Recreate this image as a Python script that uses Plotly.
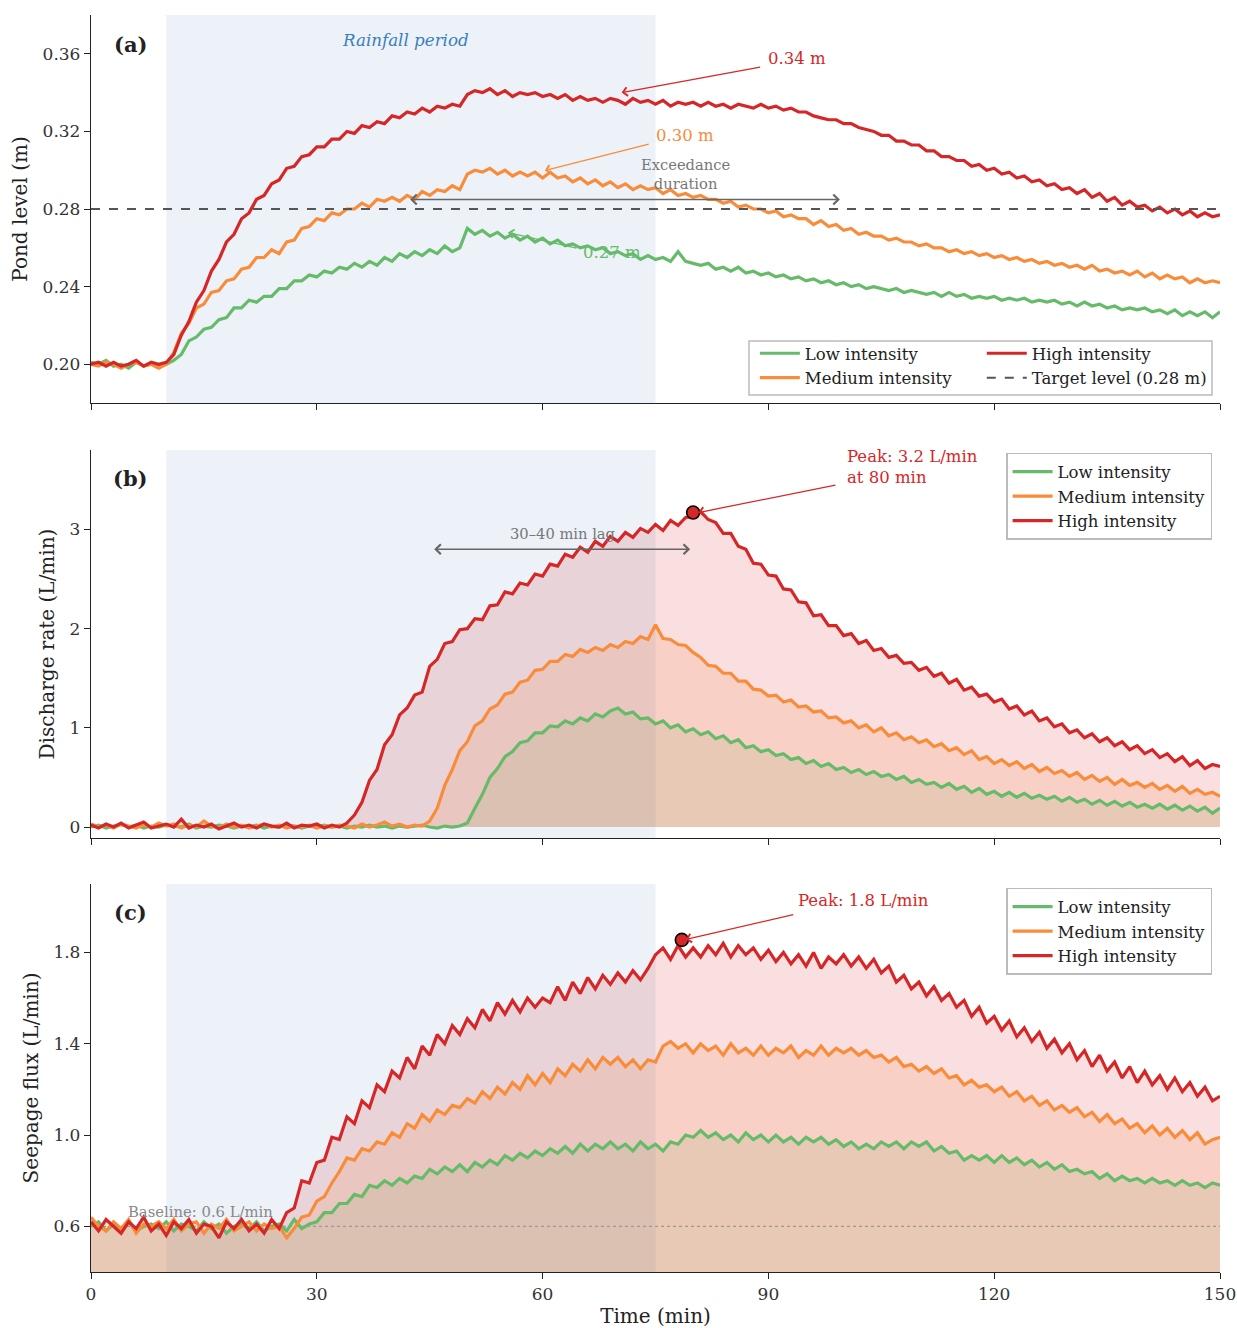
import plotly.graph_objects as go

# ---------------- data ----------------
time_min = list(range(0, 151))

pond_low = [
    0.201, 0.200, 0.202, 0.199, 0.200, 0.198, 0.201, 0.199, 0.200, 0.199,
    0.200, 0.202, 0.205, 0.212, 0.214, 0.218, 0.219, 0.223, 0.224, 0.229,
    0.229, 0.233, 0.232, 0.235, 0.235, 0.239, 0.239, 0.243, 0.243, 0.246,
    0.245, 0.248, 0.247, 0.250, 0.249, 0.252, 0.250, 0.253, 0.251, 0.255,
    0.253, 0.257, 0.255, 0.258, 0.256, 0.259, 0.257, 0.261, 0.258, 0.260,
    0.270, 0.267, 0.269, 0.266, 0.268, 0.265, 0.267, 0.264, 0.266, 0.263,
    0.265, 0.262, 0.264, 0.261, 0.262, 0.260, 0.261, 0.259, 0.260, 0.257,
    0.258, 0.256, 0.257, 0.254, 0.256, 0.254, 0.255, 0.253, 0.258, 0.253,
    0.252, 0.251, 0.252, 0.249, 0.250, 0.248, 0.250, 0.247, 0.248, 0.246,
    0.247, 0.245, 0.246, 0.244, 0.245, 0.243, 0.244, 0.242, 0.243, 0.241,
    0.242, 0.240, 0.241, 0.239, 0.240, 0.239, 0.238, 0.239, 0.237, 0.238,
    0.237, 0.236, 0.237, 0.235, 0.237, 0.235, 0.236, 0.234, 0.235, 0.234,
    0.235, 0.233, 0.234, 0.233, 0.234, 0.232, 0.233, 0.232, 0.233, 0.231,
    0.232, 0.230, 0.232, 0.230, 0.231, 0.229, 0.230, 0.228, 0.229, 0.228,
    0.229, 0.227, 0.228, 0.226, 0.228, 0.225, 0.227, 0.225, 0.227, 0.224,
    0.227]

pond_med = [
    0.200, 0.199, 0.201, 0.200, 0.198, 0.200, 0.201, 0.199, 0.200, 0.198,
    0.200, 0.206, 0.216, 0.221, 0.229, 0.231, 0.237, 0.238, 0.243, 0.244,
    0.249, 0.250, 0.255, 0.255, 0.259, 0.257, 0.263, 0.264, 0.270, 0.271,
    0.275, 0.274, 0.278, 0.277, 0.280, 0.280, 0.283, 0.281, 0.285, 0.284,
    0.286, 0.284, 0.287, 0.285, 0.289, 0.287, 0.290, 0.289, 0.292, 0.290,
    0.298, 0.300, 0.299, 0.301, 0.298, 0.300, 0.297, 0.299, 0.297, 0.299,
    0.296, 0.299, 0.296, 0.297, 0.294, 0.296, 0.293, 0.295, 0.292, 0.294,
    0.291, 0.293, 0.290, 0.292, 0.290, 0.291, 0.288, 0.290, 0.287, 0.288,
    0.286, 0.287, 0.285, 0.285, 0.283, 0.284, 0.281, 0.282, 0.280, 0.280,
    0.278, 0.279, 0.276, 0.277, 0.275, 0.275, 0.272, 0.274, 0.271, 0.272,
    0.269, 0.270, 0.267, 0.268, 0.266, 0.266, 0.264, 0.265, 0.263, 0.263,
    0.261, 0.262, 0.260, 0.260, 0.258, 0.259, 0.257, 0.258, 0.256, 0.257,
    0.255, 0.256, 0.254, 0.255, 0.253, 0.254, 0.252, 0.253, 0.251, 0.252,
    0.250, 0.251, 0.249, 0.251, 0.248, 0.249, 0.247, 0.248, 0.246, 0.248,
    0.245, 0.247, 0.244, 0.246, 0.244, 0.245, 0.242, 0.244, 0.242, 0.243,
    0.242]

pond_high = [
    0.200, 0.201, 0.199, 0.201, 0.199, 0.200, 0.202, 0.199, 0.201, 0.200,
    0.201, 0.205, 0.215, 0.222, 0.232, 0.238, 0.248, 0.254, 0.263, 0.267,
    0.275, 0.278, 0.285, 0.287, 0.293, 0.295, 0.301, 0.302, 0.307, 0.308,
    0.312, 0.312, 0.316, 0.316, 0.320, 0.319, 0.323, 0.322, 0.325, 0.324,
    0.328, 0.327, 0.330, 0.329, 0.332, 0.330, 0.333, 0.332, 0.334, 0.333,
    0.339, 0.341, 0.340, 0.342, 0.339, 0.341, 0.338, 0.340, 0.339, 0.340,
    0.338, 0.339, 0.337, 0.339, 0.336, 0.338, 0.336, 0.337, 0.335, 0.337,
    0.336, 0.334, 0.337, 0.335, 0.336, 0.334, 0.336, 0.333, 0.335, 0.334,
    0.335, 0.333, 0.335, 0.333, 0.334, 0.332, 0.334, 0.333, 0.332, 0.334,
    0.332, 0.333, 0.331, 0.332, 0.330, 0.330, 0.328, 0.327, 0.326, 0.326,
    0.324, 0.324, 0.322, 0.321, 0.320, 0.318, 0.318, 0.315, 0.315, 0.313,
    0.313, 0.310, 0.310, 0.307, 0.307, 0.305, 0.305, 0.302, 0.303, 0.300,
    0.301, 0.298, 0.299, 0.296, 0.297, 0.294, 0.295, 0.292, 0.293, 0.290,
    0.291, 0.288, 0.290, 0.286, 0.288, 0.284, 0.286, 0.282, 0.284, 0.281,
    0.282, 0.279, 0.281, 0.278, 0.280, 0.277, 0.279, 0.276, 0.278, 0.276,
    0.277]

dis_low = [
    0.00, 0.02, -0.01, 0.01, 0.03, 0.00, 0.02, -0.01, 0.01, 0.00,
    0.02, 0.01, 0.00, 0.03, -0.01, 0.01, 0.00, 0.02, 0.01, -0.01,
    0.01, 0.00, 0.02, -0.01, 0.01, 0.00, 0.02, 0.01, -0.01, 0.01,
    0.00, 0.02, 0.00, 0.01, -0.01, 0.01, 0.00, 0.02, 0.00, 0.01,
    -0.01, 0.01, 0.00, 0.01, 0.02, 0.00, -0.01, 0.01, 0.00, 0.01,
    0.04, 0.19, 0.33, 0.50, 0.59, 0.71, 0.76, 0.85, 0.87, 0.95,
    0.95, 1.02, 1.01, 1.07, 1.04, 1.10, 1.07, 1.14, 1.11, 1.17,
    1.20, 1.14, 1.16, 1.09, 1.10, 1.04, 1.07, 1.00, 1.03, 0.96,
    0.99, 0.93, 0.96, 0.89, 0.92, 0.85, 0.88, 0.80, 0.82, 0.76,
    0.78, 0.72, 0.74, 0.68, 0.70, 0.64, 0.67, 0.61, 0.64, 0.58,
    0.60, 0.55, 0.58, 0.53, 0.56, 0.51, 0.53, 0.48, 0.51, 0.45,
    0.48, 0.43, 0.45, 0.40, 0.44, 0.38, 0.41, 0.35, 0.39, 0.33,
    0.36, 0.31, 0.35, 0.30, 0.34, 0.29, 0.32, 0.28, 0.31, 0.26,
    0.30, 0.25, 0.28, 0.23, 0.27, 0.22, 0.26, 0.21, 0.25, 0.20,
    0.23, 0.19, 0.23, 0.18, 0.22, 0.17, 0.21, 0.16, 0.20, 0.14,
    0.19]

dis_med = [
    0.03, 0.00, 0.02, -0.01, 0.03, 0.01, -0.01, 0.02, 0.00, 0.04,
    0.01, 0.03, -0.01, 0.02, 0.00, 0.06, 0.01, -0.01, 0.03, 0.00,
    0.02, -0.01, 0.01, 0.03, 0.00, 0.02, -0.01, 0.01, 0.00, 0.02,
    -0.01, 0.01, 0.00, 0.02, 0.01, -0.01, 0.03, 0.00, 0.02, 0.05,
    0.01, 0.03, 0.00, 0.02, 0.01, 0.06, 0.19, 0.42, 0.58, 0.77,
    0.86, 1.02, 1.07, 1.19, 1.23, 1.34, 1.36, 1.46, 1.48, 1.58,
    1.59, 1.67, 1.67, 1.74, 1.72, 1.79, 1.76, 1.81, 1.78, 1.84,
    1.81, 1.87, 1.85, 1.92, 1.89, 2.04, 1.90, 1.89, 1.84, 1.83,
    1.76, 1.71, 1.63, 1.62, 1.55, 1.55, 1.47, 1.47, 1.39, 1.38,
    1.32, 1.33, 1.26, 1.28, 1.21, 1.22, 1.16, 1.17, 1.10, 1.11,
    1.05, 1.07, 1.00, 1.03, 0.96, 1.00, 0.92, 0.95, 0.88, 0.91,
    0.85, 0.88, 0.81, 0.84, 0.77, 0.80, 0.73, 0.77, 0.68, 0.71,
    0.64, 0.68, 0.62, 0.66, 0.59, 0.63, 0.56, 0.60, 0.54, 0.57,
    0.51, 0.55, 0.48, 0.52, 0.46, 0.50, 0.43, 0.48, 0.42, 0.45,
    0.40, 0.44, 0.38, 0.42, 0.36, 0.41, 0.34, 0.38, 0.33, 0.35,
    0.31]

dis_high = [
    0.02, -0.01, 0.03, 0.00, 0.04, -0.01, 0.02, 0.05, -0.01, 0.01,
    0.03, 0.00, 0.08, -0.01, 0.02, 0.00, 0.03, -0.02, 0.01, 0.04,
    0.00, 0.02, -0.01, 0.03, 0.01, 0.00, 0.04, -0.01, 0.02, 0.01,
    0.03, -0.01, 0.02, 0.00, 0.04, 0.12, 0.25, 0.47, 0.58, 0.83,
    0.93, 1.13, 1.20, 1.33, 1.36, 1.62, 1.69, 1.85, 1.87, 1.99,
    2.00, 2.10, 2.09, 2.23, 2.24, 2.37, 2.35, 2.46, 2.44, 2.55,
    2.53, 2.65, 2.63, 2.75, 2.72, 2.82, 2.77, 2.88, 2.83, 2.93,
    2.88, 2.97, 2.92, 3.01, 2.97, 3.05, 2.99, 3.09, 3.04, 3.12,
    3.13, 3.18, 3.10, 3.07, 2.96, 2.96, 2.83, 2.80, 2.66, 2.65,
    2.54, 2.53, 2.40, 2.39, 2.27, 2.26, 2.13, 2.14, 2.03, 2.03,
    1.93, 1.95, 1.85, 1.88, 1.78, 1.80, 1.71, 1.73, 1.65, 1.66,
    1.58, 1.61, 1.52, 1.55, 1.45, 1.49, 1.38, 1.41, 1.32, 1.34,
    1.26, 1.29, 1.19, 1.22, 1.13, 1.17, 1.07, 1.10, 1.01, 1.04,
    0.95, 0.98, 0.90, 0.94, 0.86, 0.90, 0.82, 0.86, 0.78, 0.82,
    0.74, 0.78, 0.70, 0.74, 0.66, 0.71, 0.62, 0.67, 0.59, 0.63,
    0.61]

seep_low = [
    0.60, 0.62, 0.58, 0.61, 0.59, 0.62, 0.58, 0.60, 0.61, 0.59,
    0.62, 0.58, 0.61, 0.60, 0.58, 0.62, 0.59, 0.61, 0.57, 0.60,
    0.61, 0.59, 0.62, 0.58, 0.60, 0.61, 0.58, 0.63, 0.59, 0.61,
    0.62, 0.66, 0.66, 0.70, 0.70, 0.74, 0.73, 0.78, 0.77, 0.80,
    0.78, 0.81, 0.79, 0.82, 0.81, 0.85, 0.83, 0.86, 0.84, 0.87,
    0.84, 0.88, 0.86, 0.89, 0.87, 0.91, 0.89, 0.92, 0.90, 0.93,
    0.91, 0.94, 0.92, 0.95, 0.92, 0.96, 0.93, 0.96, 0.94, 0.97,
    0.94, 0.96, 0.93, 0.97, 0.94, 0.96, 0.93, 0.97, 0.96, 1.00,
    0.99, 1.02, 0.99, 1.01, 0.98, 1.00, 0.97, 1.01, 0.98, 1.00,
    0.97, 1.00, 0.97, 0.99, 0.96, 0.99, 0.97, 0.99, 0.96, 0.98,
    0.95, 0.97, 0.94, 0.96, 0.94, 0.97, 0.95, 0.97, 0.94, 0.97,
    0.95, 0.97, 0.93, 0.95, 0.92, 0.93, 0.89, 0.91, 0.89, 0.91,
    0.88, 0.91, 0.88, 0.90, 0.87, 0.89, 0.86, 0.88, 0.85, 0.87,
    0.84, 0.85, 0.83, 0.84, 0.81, 0.83, 0.80, 0.82, 0.80, 0.81,
    0.79, 0.81, 0.79, 0.80, 0.78, 0.80, 0.78, 0.79, 0.77, 0.79,
    0.78]

seep_med = [
    0.64, 0.60, 0.58, 0.62, 0.59, 0.63, 0.57, 0.61, 0.60, 0.62,
    0.59, 0.63, 0.58, 0.61, 0.62, 0.57, 0.61, 0.59, 0.63, 0.58,
    0.60, 0.62, 0.58, 0.61, 0.59, 0.60, 0.55, 0.59, 0.64, 0.65,
    0.71, 0.73, 0.79, 0.84, 0.90, 0.89, 0.94, 0.93, 0.97, 0.96,
    1.01, 0.99, 1.05, 1.03, 1.09, 1.06, 1.11, 1.09, 1.13, 1.12,
    1.16, 1.14, 1.19, 1.16, 1.21, 1.18, 1.23, 1.20, 1.26, 1.22,
    1.27, 1.23, 1.29, 1.26, 1.31, 1.28, 1.33, 1.29, 1.34, 1.31,
    1.34, 1.30, 1.33, 1.29, 1.33, 1.32, 1.39, 1.41, 1.38, 1.40,
    1.36, 1.40, 1.37, 1.39, 1.35, 1.40, 1.36, 1.38, 1.35, 1.39,
    1.35, 1.38, 1.36, 1.39, 1.34, 1.37, 1.35, 1.39, 1.35, 1.38,
    1.36, 1.38, 1.35, 1.37, 1.34, 1.35, 1.32, 1.34, 1.30, 1.31,
    1.28, 1.30, 1.27, 1.29, 1.25, 1.26, 1.22, 1.24, 1.21, 1.22,
    1.19, 1.21, 1.17, 1.19, 1.15, 1.17, 1.13, 1.15, 1.11, 1.13,
    1.10, 1.12, 1.08, 1.10, 1.06, 1.09, 1.05, 1.07, 1.03, 1.05,
    1.01, 1.04, 1.00, 1.03, 0.99, 1.02, 0.98, 1.01, 0.96, 0.98,
    0.99]

seep_high = [
    0.62, 0.58, 0.63, 0.60, 0.57, 0.62, 0.59, 0.64, 0.58, 0.61,
    0.56, 0.62, 0.59, 0.63, 0.57, 0.61, 0.60, 0.55, 0.62, 0.59,
    0.63, 0.58, 0.61, 0.57, 0.63, 0.59, 0.66, 0.68, 0.80, 0.79,
    0.88, 0.89, 0.99, 0.98, 1.08, 1.05, 1.15, 1.12, 1.22, 1.19,
    1.28, 1.25, 1.34, 1.29, 1.39, 1.35, 1.44, 1.40, 1.48, 1.44,
    1.51, 1.47, 1.55, 1.50, 1.58, 1.53, 1.59, 1.54, 1.60, 1.56,
    1.60, 1.58, 1.65, 1.59, 1.67, 1.62, 1.69, 1.64, 1.70, 1.66,
    1.71, 1.67, 1.72, 1.68, 1.73, 1.79, 1.82, 1.77, 1.83, 1.78,
    1.82, 1.78, 1.83, 1.79, 1.84, 1.78, 1.83, 1.79, 1.82, 1.77,
    1.81, 1.76, 1.80, 1.75, 1.79, 1.74, 1.80, 1.73, 1.78, 1.75,
    1.79, 1.74, 1.78, 1.73, 1.77, 1.71, 1.74, 1.67, 1.70, 1.64,
    1.67, 1.61, 1.65, 1.59, 1.62, 1.56, 1.59, 1.52, 1.56, 1.49,
    1.52, 1.46, 1.50, 1.43, 1.47, 1.41, 1.45, 1.38, 1.42, 1.36,
    1.40, 1.33, 1.37, 1.30, 1.35, 1.28, 1.32, 1.25, 1.30, 1.23,
    1.28, 1.22, 1.26, 1.20, 1.25, 1.19, 1.23, 1.17, 1.21, 1.15,
    1.17]

series_names = ["Low intensity", "Medium intensity", "High intensity"]
rain_window = [10, 75]
target_level = 0.28
baseline_flux = 0.6
peak_dis = [80, 3.17]
peak_seep = [78.5, 1.855]

pond_ticks = [0.20, 0.24, 0.28, 0.32, 0.36]
dis_ticks = [0, 1, 2, 3]
seep_ticks = [0.6, 1.0, 1.4, 1.8]
time_ticks = [0, 30, 60, 90, 120, 150]

# ---------------- style ----------------
COLORS = ["#66bb6a", "#f98c3a", "#d62728"]
FILLS = ["rgba(102,187,106,0.15)", "rgba(249,140,58,0.15)", "rgba(214,39,40,0.15)"]
FONT = "DejaVu Serif"
AX = "#222222"
LEG_FONT = dict(family=FONT, size=16.5, color="#222")

fig = go.Figure()

# panel (a)
pond = [pond_low, pond_med, pond_high]
legend_a = ["legend", "legend", "legend2"]
for i in range(3):
    fig.add_trace(go.Scatter(x=time_min, y=pond[i], mode="lines", name=series_names[i],
                             line=dict(color=COLORS[i], width=3.2), xaxis="x", yaxis="y",
                             legend=legend_a[i]))
fig.add_trace(go.Scatter(x=[0, 150], y=[target_level, target_level], mode="lines",
                         name="Target level (0.28 m)", line=dict(color="#555555", width=2, dash="dash"),
                         xaxis="x", yaxis="y", legend="legend2"))

# panel (b) and (c): fills first, then lines
for data, xa, ya, lg in [([dis_low, dis_med, dis_high], "x2", "y2", "legend3"),
                         ([seep_low, seep_med, seep_high], "x3", "y3", "legend4")]:
    for i in range(3):
        fig.add_trace(go.Scatter(x=time_min, y=data[i], mode="none", fill="tozeroy",
                                 fillcolor=FILLS[i], showlegend=False, hoverinfo="skip",
                                 xaxis=xa, yaxis=ya))
    if ya == "y3":
        fig.add_trace(go.Scatter(x=[0, 150], y=[baseline_flux, baseline_flux], mode="lines",
                                 line=dict(color="#999999", width=1.2, dash="dot"),
                                 showlegend=False, xaxis=xa, yaxis=ya))
    for i in range(3):
        fig.add_trace(go.Scatter(x=time_min, y=data[i], mode="lines", name=series_names[i],
                                 line=dict(color=COLORS[i], width=3.2), xaxis=xa, yaxis=ya,
                                 legend=lg))

# peak markers
for pk, xa, ya in [(peak_dis, "x2", "y2"), (peak_seep, "x3", "y3")]:
    fig.add_trace(go.Scatter(x=[pk[0]], y=[pk[1]], mode="markers",
                             marker=dict(color="#d62728", size=13, line=dict(color="black", width=1.6)),
                             showlegend=False, xaxis=xa, yaxis=ya))

# rainfall shading
shapes = []
for xa, ya in [("x", "y"), ("x2", "y2"), ("x3", "y3")]:
    shapes.append(dict(type="rect", xref=xa, yref=ya + " domain", x0=rain_window[0], x1=rain_window[1],
                       y0=0, y1=1, fillcolor="rgba(70,130,180,0.10)", line=dict(width=0), layer="below"))
# legend box for panel (a)
shapes.append(dict(type="rect", xref="paper", yref="paper", x0=0.5828, x1=0.9929, y0=0.6977, y1=0.7406,
                   line=dict(color="#bbbbbb", width=1.5), fillcolor="rgba(255,255,255,0.85)", layer="above"))

ann = []


def text(x, y, t, xr, yr, color="#222", size=16.5, xanchor="center", yanchor="middle", align="center"):
    ann.append(dict(x=x, y=y, text=t, xref=xr, yref=yr, showarrow=False, align=align,
                    font=dict(color=color, size=size, family=FONT), xanchor=xanchor, yanchor=yanchor))


def arrow(xh, yh, xt, yt, xr, yr, color, both=False, width=1.3):
    ann.append(dict(x=xh, y=yh, ax=xt, ay=yt, xref=xr, yref=yr, axref=xr, ayref=yr, text="",
                    showarrow=True, arrowhead=4, arrowsize=1.3, arrowwidth=width, arrowcolor=color,
                    arrowside="end+start" if both else "end", standoff=0, startstandoff=0))


# panel labels
text(5.3, 0.3646, "<b>(a)</b>", "x", "y", size=21)
text(5.3, 3.51, "<b>(b)</b>", "x2", "y2", size=21)
text(5.3, 1.976, "<b>(c)</b>", "x3", "y3", size=21)

# panel (a)
text(41.85, 0.3672, "<i>Rainfall period</i>", "x", "y", color="#3a7ebf", size=16.7)
text(93.8, 0.3574, "0.34 m", "x", "y", color="#d62728")
arrow(70.5, 0.340, 89.1, 0.3533, "x", "y", "#d62728")
text(78.9, 0.3178, "0.30 m", "x", "y", color="#f98c3a")
arrow(60.3, 0.2998, 74.3, 0.3137, "x", "y", "#f98c3a")
arrow(55.4, 0.2679, 64.7, 0.2597, "x", "y", "#66bb6a")
text(69.2, 0.2576, "0.27 m", "x", "y", color="#66bb6a")
text(79.0, 0.2983, "Exceedance<br>duration", "x", "y", color="#777777", size=14.7)
arrow(99.5, 0.2849, 42.2, 0.2849, "x", "y", "#666666", both=True, width=1.5)

# panel (b)
arrow(80.7, 3.17, 99.1, 3.45, "x2", "y2", "#d62728")
text(100.2, 3.63, "Peak: 3.2 L/min<br>at 80 min", "x2", "y2", color="#d62728",
     xanchor="left", align="left")
text(62.6, 2.96, "30\u201340 min lag", "x2", "y2", color="#777777", size=14.7)
arrow(79.6, 2.80, 45.4, 2.80, "x2", "y2", "#666666", both=True, width=1.5)

# panel (c)
arrow(79.0, 1.857, 93.5, 1.967, "x3", "y3", "#d62728")
text(93.7, 2.029, "Peak: 1.8 L/min", "x3", "y3", color="#d62728", xanchor="left", align="left")
text(14.6, 0.666, "Baseline: 0.6 L/min", "x3", "y3", color="#888888", size=14.8)

axis_common = dict(showline=True, linecolor=AX, linewidth=1.3, ticks="outside", ticklen=6,
                   tickwidth=1.3, tickcolor=AX, showgrid=False, zeroline=False, mirror=False,
                   automargin=False, tickfont=dict(family=FONT, size=17, color="#333"))
TITLE_FONT = dict(size=20, family=FONT, color="#222")

lay = dict(
    width=1237, height=1328,
    margin=dict(l=91, r=17, t=15, b=56, autoexpand=False),
    paper_bgcolor="white", plot_bgcolor="white",
    font=dict(family=FONT, color="#222"),
    shapes=shapes, annotations=ann,
    xaxis=dict(domain=[0, 1], anchor="y", range=[0, 150], tickvals=time_ticks, showticklabels=False,
               **axis_common),
    xaxis2=dict(domain=[0, 1], anchor="y2", range=[0, 150], tickvals=time_ticks, showticklabels=False,
                **axis_common),
    xaxis3=dict(domain=[0, 1], anchor="y3", range=[0, 150], tickvals=time_ticks,
                title=dict(text="Time (min)", font=TITLE_FONT, standoff=9), **axis_common),
    yaxis=dict(domain=[0.6913, 1], anchor="x", range=[0.18, 0.38], tickvals=pond_ticks, tickformat=".2f",
               title=dict(text="Pond level (m)", font=TITLE_FONT, standoff=9), **axis_common),
    yaxis2=dict(domain=[0.3453, 0.6539], anchor="x2", range=[-0.11, 3.8], tickvals=dis_ticks,
                title=dict(text="Discharge rate (L/min)", font=TITLE_FONT, standoff=9), **axis_common),
    yaxis3=dict(domain=[0, 0.3087], anchor="x3", range=[0.4, 2.1], tickvals=seep_ticks, tickformat=".1f",
                title=dict(text="Seepage flux (L/min)", font=TITLE_FONT, standoff=9), **axis_common),
    legend=dict(x=0.588, y=0.7446, xanchor="left", yanchor="top", bgcolor="rgba(0,0,0,0)",
                borderwidth=0, font=LEG_FONT, tracegroupgap=0, itemwidth=40),
    legend2=dict(x=0.789, y=0.7446, xanchor="left", yanchor="top", bgcolor="rgba(0,0,0,0)",
                 borderwidth=0, font=LEG_FONT, tracegroupgap=0, itemwidth=40),
    legend3=dict(x=0.993, y=0.6516, xanchor="right", yanchor="top", bgcolor="white",
                 bordercolor="#bbbbbb", borderwidth=1.5, font=LEG_FONT, itemwidth=40),
    legend4=dict(x=0.993, y=0.3055, xanchor="right", yanchor="top", bgcolor="white",
                 bordercolor="#bbbbbb", borderwidth=1.5, font=LEG_FONT, itemwidth=40),
)
fig.update_layout(**lay)
fig.write_html("out.html", config={"displayModeBar": False},
               post_script="document.body.style.margin='0px';")
